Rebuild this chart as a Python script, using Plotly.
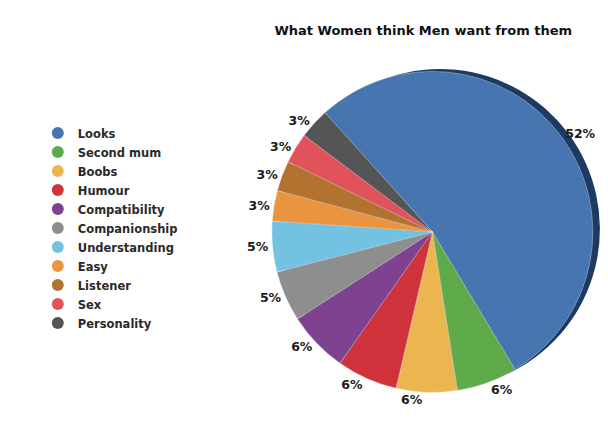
import plotly.graph_objects as go

title = "What Women think Men want from them"
labels = ["Looks", "Second mum", "Boobs", "Humour", "Compatibility", "Companionship",
          "Understanding", "Easy", "Listener", "Sex", "Personality"]
values = [52, 6, 6, 6, 6, 5, 5, 3, 3, 3, 3]
colors = ["#4775b0", "#5fab4c", "#ebb54f", "#cf323a", "#7e4290", "#8e8e8e",
          "#74c2e2", "#eb943f", "#b1732f", "#e2525b", "#555555"]
text_labels = [f"<b>{v}%</b>" for v in values]

FONT = "DejaVu Sans, Liberation Sans, Arial"

fig = go.Figure()
# dark rim behind the pie (3D edge effect)
fig.add_trace(go.Pie(
    labels=labels, values=values, textinfo="none",
    marker=dict(colors=["#1d3a63"] * len(values), line=dict(width=0)),
    sort=False, direction="clockwise", rotation=-42,
    showlegend=False, hoverinfo="skip",
    domain=dict(x=[0.4475, 0.9735], y=[0.1457, 0.8637]),
))
fig.add_trace(go.Pie(
    labels=labels, values=values, text=text_labels,
    textinfo="text", textposition="outside",
    textfont=dict(family=FONT, size=12.5, color="#1a1a1a"),
    marker=dict(colors=colors, line=dict(color="rgba(255,255,255,0.5)", width=0.6)),
    sort=False, direction="clockwise", rotation=-42,
    showlegend=False,
    domain=dict(x=[0.434, 0.962], y=[0.136, 0.86]),
))
for lab, col in zip(labels, colors):
    fig.add_trace(go.Scatter(
        x=[None], y=[None], mode="markers", name=lab,
        marker=dict(symbol="circle", size=13, color=col),
    ))

fig.update_layout(
    width=608, height=446,
    margin=dict(l=0, r=0, t=0, b=0),
    paper_bgcolor="white", plot_bgcolor="white",
    title=dict(text="<b>" + title + "</b>", x=0.683, xanchor="center", y=0.949, yanchor="middle",
               font=dict(family=FONT, size=13, color="#111")),
    xaxis=dict(visible=False), yaxis=dict(visible=False),
    legend=dict(x=0.049, y=0.752, xanchor="left", yanchor="top",
                font=dict(family="DejaVu Sans", size=11.5, color="#2a2a2a", weight="bold"),
                itemsizing="constant", tracegroupgap=0, bgcolor="rgba(0,0,0,0)"),
)
fig.write_html("out.html")
